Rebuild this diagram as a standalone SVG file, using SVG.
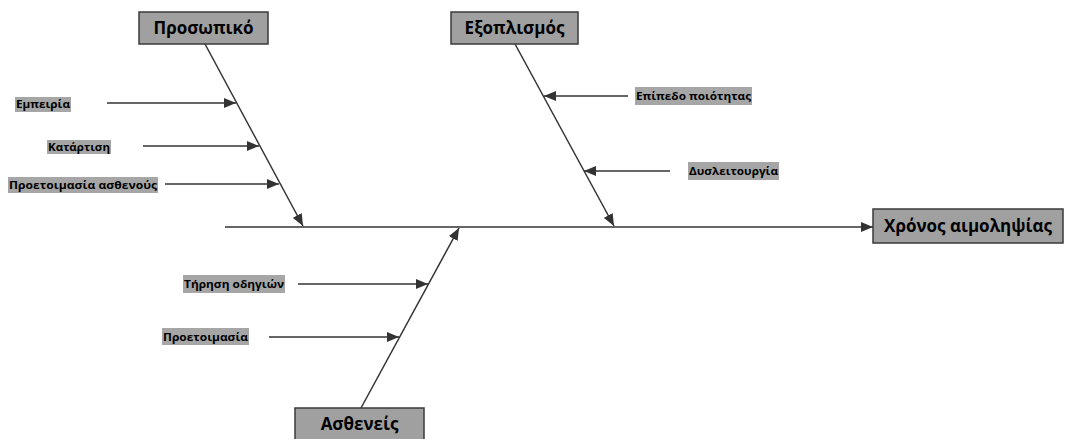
<svg xmlns="http://www.w3.org/2000/svg" width="1065" height="439" viewBox="0 0 1065 439">
<style>
.box{fill:#a0a0a0;stroke:#3a3a3a;stroke-width:1.5}
.bt{font-family:"Open Sans","Liberation Sans",sans-serif;font-weight:bold;font-size:17px;fill:#000;text-anchor:middle}
.lb{fill:#a6a6a6}
.lt{font-family:"Open Sans","Liberation Sans",sans-serif;font-weight:bold;font-size:11px;fill:#000}
.ln{stroke:#333;stroke-width:1.5;fill:none;marker-end:url(#ah)}
</style>
<defs>
<marker id="ah" viewBox="0 0 12 10" refX="12" refY="5" markerWidth="12" markerHeight="10" markerUnits="userSpaceOnUse" orient="auto">
<path d="M0,0 L12,5 L0,10 Z" fill="#333"/>
</marker>
</defs>
<rect width="1065" height="439" fill="#fff"/>
<g id="connectors">
<line class="ln" x1="225" y1="227" x2="873" y2="227"/>
<line class="ln" x1="205" y1="44" x2="303" y2="226"/>
<line class="ln" x1="515" y1="44" x2="614" y2="226"/>
<line class="ln" x1="361" y1="408" x2="459" y2="228"/>
<line class="ln" x1="107" y1="103" x2="236" y2="103"/>
<line class="ln" x1="143" y1="146" x2="259" y2="146"/>
<line class="ln" x1="165" y1="184" x2="279" y2="184"/>
<line class="ln" x1="628" y1="96" x2="544" y2="96"/>
<line class="ln" x1="670" y1="171" x2="584" y2="171"/>
<line class="ln" x1="298" y1="284" x2="428" y2="284"/>
<line class="ln" x1="269" y1="337" x2="399" y2="337"/>
</g>
<g id="personnel">
<rect class="box" x="139" y="12" width="129" height="32"/>
<text class="bt" x="203.5" y="34">Προσωπικό</text>
</g>
<g id="equipment">
<rect class="box" x="451" y="12" width="127" height="32"/>
<text class="bt" x="514.5" y="34">Εξοπλισμός</text>
</g>
<g id="patients">
<rect class="box" x="295" y="408" width="129" height="36"/>
<text class="bt" x="359.5" y="430">Ασθενείς</text>
</g>
<g id="effect">
<rect class="box" x="873" y="209" width="190" height="34"/>
<text class="bt" x="968" y="232">Χρόνος αιμοληψίας</text>
</g>
<g id="experience">
<rect class="lb" x="15" y="97" width="56" height="15"/>
<text class="lt" x="16" y="108" textLength="54" lengthAdjust="spacingAndGlyphs">Εμπειρία</text>
</g>
<g id="training">
<rect class="lb" x="47" y="140" width="64" height="14"/>
<text class="lt" x="48" y="151" textLength="62" lengthAdjust="spacingAndGlyphs">Κατάρτιση</text>
</g>
<g id="patient-prep">
<rect class="lb" x="8" y="177" width="150" height="16"/>
<text class="lt" x="9" y="189" textLength="148" lengthAdjust="spacingAndGlyphs">Προετοιμασία ασθενούς</text>
</g>
<g id="quality">
<rect class="lb" x="635" y="87" width="117" height="18"/>
<text class="lt" x="636" y="100" textLength="115" lengthAdjust="spacingAndGlyphs">Επίπεδο ποιότητας</text>
</g>
<g id="malfunction">
<rect class="lb" x="688" y="162" width="91" height="18"/>
<text class="lt" x="689" y="175" textLength="89" lengthAdjust="spacingAndGlyphs">Δυσλειτουργία</text>
</g>
<g id="guidelines">
<rect class="lb" x="183" y="275" width="102" height="18"/>
<text class="lt" x="184" y="288" textLength="100" lengthAdjust="spacingAndGlyphs">Τήρηση οδηγιών</text>
</g>
<g id="preparation">
<rect class="lb" x="162" y="328" width="87" height="17"/>
<text class="lt" x="163" y="341" textLength="85" lengthAdjust="spacingAndGlyphs">Προετοιμασία</text>
</g>
</svg>
